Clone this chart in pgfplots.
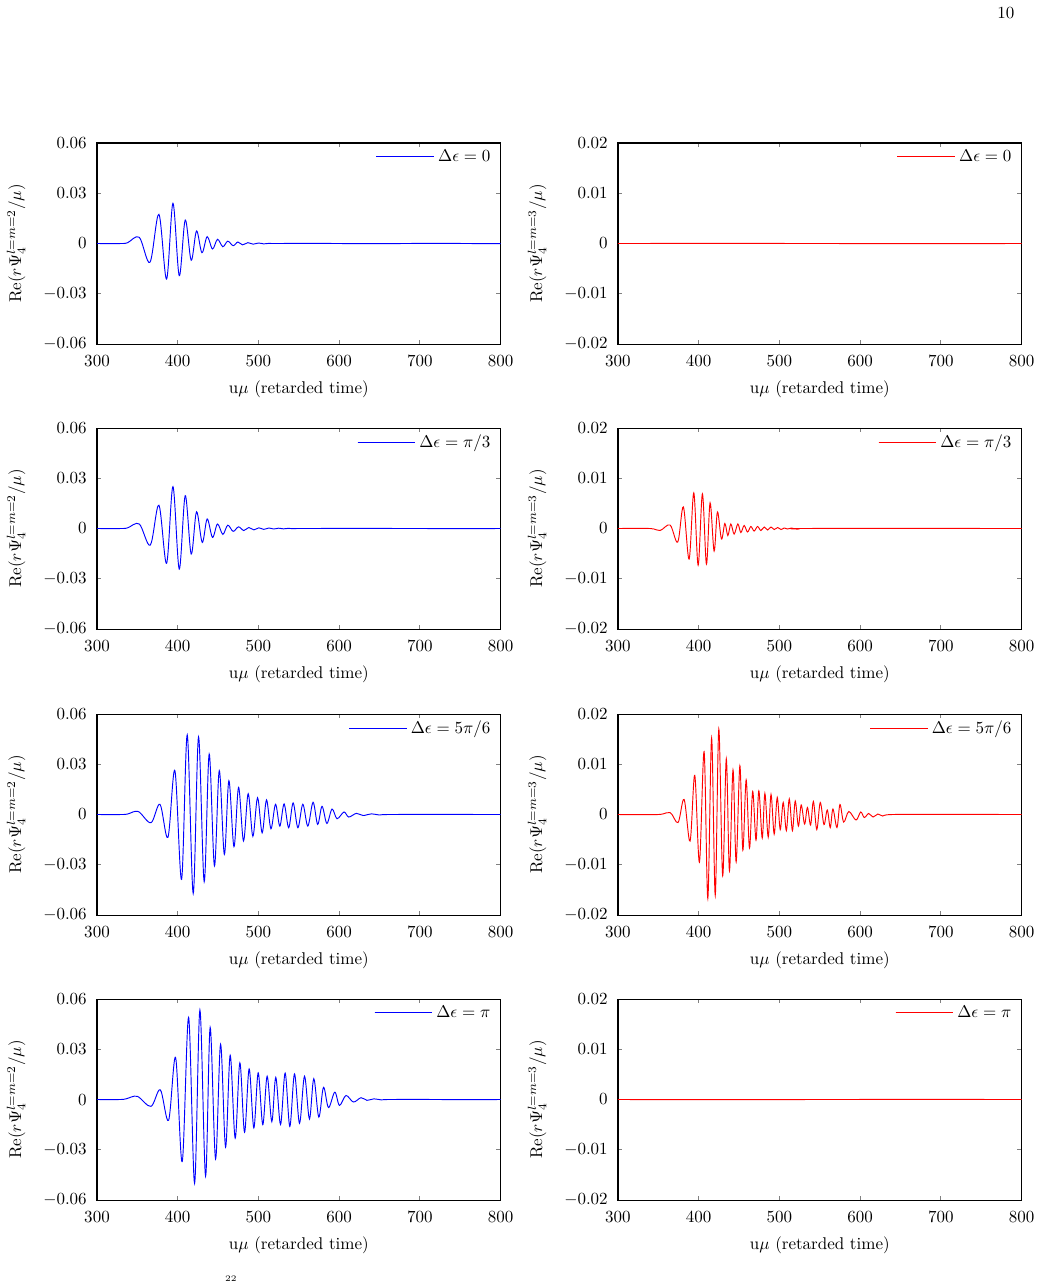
\documentclass[border=0pt]{standalone}
\usepackage{pgfplots}
\pgfplotsset{compat=1.18}

\definecolor{gpblue}{RGB}{0,0,255}
\definecolor{gpred}{RGB}{255,0,0}

% Common look of every panel: gnuplot-like frame with inward ticks on all sides
\pgfplotsset{
  wave/.style={
    scale only axis,
    width=237.3pt, height=118.19pt,
    xmin=300, xmax=800,
    xtick={300,400,500,600,700,800},
    scaled y ticks=false,
    axis line style={line width=0.6pt},
    major tick length=2.6pt,
    major tick style={line width=0.5pt},
    xticklabel style={yshift=-3.5pt},
    yticklabel style={xshift=-2.5pt},
    xlabel={u$\mu$ (retarded time)},
    xlabel style={at={(axis description cs:0.5,-0.224)}, anchor=center},
    ylabel style={at={(axis description cs:-0.2005,0.5)}, anchor=center},
    legend style={draw=none, fill=none, at={(1,1)}, anchor=north east,
      xshift=-0.8pt, yshift=0.2pt},
    legend image code/.code={%
      \path (0pt,0pt) -- (34pt,0pt);
      \draw[#1] (0pt,0pt) -- (28pt,0pt);},
    every axis plot/.append style={line width=0.55pt, smooth, tension=0.55},
  },
  ltwo/.style={wave,
    ymin=-0.06, ymax=0.06,
    ytick={-0.06,-0.03,0,0.03,0.06},
    yticklabels={$-0.06$,$-0.03$,$0$,$0.03$,$0.06$},
    ylabel={Re$(r\Psi_4^{l=m=2}/\mu)$},
  },
  lthree/.style={wave,
    ymin=-0.02, ymax=0.02,
    ytick={-0.02,-0.01,0,0.01,0.02},
    yticklabels={$-0.02$,$-0.01$,$0$,$0.01$,$0.02$},
    ylabel={Re$(r\Psi_4^{l=m=3}/\mu)$},
  },
}

\begin{document}
\begin{tikzpicture}
\path[use as bounding box] (0pt,0pt) rectangle (612.108pt,-754.404pt);
\node at (591.5pt,-7.6pt) {10};
\node[anchor=south, inner sep=0pt, font=\tiny] at (135.8pt,-754.0pt) {22};

% ---------- Delta epsilon = 0 ----------
\begin{axis}[ltwo, at={(57.04pt,-84.084pt)}, anchor=north west]
\addplot[draw=gpblue] coordinates {
(300,0) (330,0) (338,0.0005) (352.4,0.0037) (365.6,-0.0112) (376.7,0.0174)
(386.2,-0.0212) (394.1,0.0240) (401.9,-0.0192) (409.3,0.0140) (416.7,-0.0100)
(423.3,0.0075) (430.0,-0.0055) (436.5,0.0041) (443.1,-0.0033) (449.3,0.0025)
(455.9,-0.0019) (462.0,0.0014) (468.7,-0.0013) (474.5,0.0009) (480.3,-0.0008)
(486.9,0.0005) (493.5,-0.0004) (500,0.0003) (506.5,-0.0002) (513,0.0001)
(520,0) (560,0.0001) (600,0) (640,-0.0001) (680,0) (720,0.0001) (760,0) (800,-0.0001)};
\addlegendentry{$\Delta\epsilon = 0$}
\end{axis}

\begin{axis}[lthree, at={(363.38pt,-84.084pt)}, anchor=north west]
\addplot[draw=gpred] coordinates {(300,0) (425,0.00002) (550,0) (675,-0.00002) (800,0)};
\addlegendentry{$\Delta\epsilon = 0$}
\end{axis}

% ---------- Delta epsilon = pi/3 ----------
\begin{axis}[ltwo, at={(57.04pt,-251.664pt)}, anchor=north west]
\addplot[draw=gpblue] coordinates {
(300,0) (330,0) (338,0.0004) (352.4,0.0027) (366.0,-0.0099) (376.7,0.0139)
(386.2,-0.0208) (394.1,0.0250) (401.9,-0.0242) (409.3,0.0196) (416.7,-0.0152)
(423.3,0.0100) (430.4,-0.0083) (436.5,0.0057) (443.1,-0.0053) (449.3,0.0027)
(455.9,-0.0035) (462.0,0.0020) (468.7,-0.0017) (475.3,0.0010) (481.9,-0.0012)
(488.0,0.0006) (494.3,-0.0008) (500.5,0.0004) (506.6,-0.0005) (513,0.0003)
(519,-0.0003) (525,0.0002) (531,-0.0002) (537,0.0001) (543,-0.0001)
(550,0) (625,0.00005) (700,0) (750,-0.00005) (800,0)};
\addlegendentry{$\Delta\epsilon = \pi/3$}
\end{axis}

\begin{axis}[lthree, at={(363.38pt,-251.664pt)}, anchor=north west]
\addplot[draw=gpred] coordinates {
(300,0) (340,0) (352.1,-0.0004) (364.5,0.0007) (374.0,-0.0027) (381.0,0.0043)
(388.1,-0.0061) (393.9,0.0071) (399.3,-0.0073) (404.6,0.0069) (409.6,-0.0071)
(414.1,0.0051) (419.1,-0.0045) (423.2,0.0033) (428.2,-0.0021) (432.4,0.0010)
(436.1,-0.0014) (439.8,0.0009) (443.9,-0.0011) (448.5,0.0009) (452.2,-0.0008)
(456.3,0.0006) (460.5,-0.0007) (464.6,0.0004) (468.7,-0.0005) (472.9,0.0004)
(477.0,-0.0004) (481.2,0.0003) (485.3,-0.0003) (489.5,0.0003) (493.6,-0.0002)
(497.8,0.0002) (502,-0.0002) (506,0.0001) (510,-0.0001) (515,0.0001)
(520,-0.0001) (525,0) (650,0.00002) (800,0)};
\addlegendentry{$\Delta\epsilon = \pi/3$}
\end{axis}

% ---------- Delta epsilon = 5pi/6 ----------
\begin{axis}[ltwo, at={(57.04pt,-419.832pt)}, anchor=north west]
\addplot[draw=gpblue] coordinates {
(300,0) (330,0) (338,0.0003) (351.1,0.0018) (366.8,-0.0049) (378.0,0.0061)
(387.9,-0.0136) (396.5,0.0262) (404.8,-0.0387) (411.8,0.0475) (419.2,-0.0471)
(425.8,0.0463) (432.8,-0.0401) (439.0,0.0361) (445.5,-0.0307) (451.5,0.0262)
(457.8,-0.0238) (463.4,0.0202) (469.7,-0.0192) (475.4,0.0162) (481.5,-0.0158)
(487.3,0.0124) (493.1,-0.0130) (498.9,0.0100) (504.6,-0.0109) (510.0,0.0087)
(515.5,-0.0085) (521.2,0.0061) (526.5,-0.0069) (531.8,0.0063) (537.5,-0.0079)
(543.0,0.0069) (548.9,-0.0079) (555.0,0.0061) (561.2,-0.0069) (567.7,0.0073)
(573.4,-0.0059) (578.8,0.0049) (584.8,-0.0053) (591.2,0.0033) (597.4,-0.0025)
(606.0,0.0015) (611.9,-0.0015) (621.4,0.0007) (629.6,-0.0006) (640,0.0004)
(650,-0.0003) (660,0) (730,0.00005) (800,0)};
\addlegendentry{$\Delta\epsilon = 5\pi/6$}
\end{axis}

\begin{axis}[lthree, at={(363.38pt,-419.832pt)}, anchor=north west]
\addplot[draw=gpred] coordinates {
(300,0) (350,0) (364.5,0.0004) (374.4,-0.0016) (381.9,0.0030) (389.3,-0.0053)
(395.1,0.0078) (400.9,-0.0095) (406.7,0.0125) (411.3,-0.0167) (416.0,0.0152)
(420.5,-0.0161) (424.9,0.0170) (429.7,-0.0122) (434.2,0.0111) (438.1,-0.0112)
(442.5,0.0089) (446.4,-0.0094) (451.0,0.0097) (454.7,-0.0071) (458.8,0.0069)
(462.9,-0.0067) (466.9,0.0046) (471.0,-0.0051) (474.5,0.0047) (478.7,-0.0047)
(482.0,0.0042) (486.1,-0.0045) (489.6,0.0040) (493.5,-0.0039) (497.3,0.0034)
(501.0,-0.0030) (504.7,0.0024) (508.6,-0.0032) (512.2,0.0031) (516.1,-0.0032)
(519.6,0.0027) (523.5,-0.0023) (527.0,0.0019) (531.2,-0.0019) (534.7,0.0014)
(538.6,-0.0021) (542.1,0.0026) (546.3,-0.0030) (550.6,0.0024) (555.2,-0.0020)
(559.3,0.0009) (563.0,-0.0026) (566.3,0.0011) (571.3,-0.0026) (575.0,0.0020)
(579.6,-0.0015) (586,0.0006) (594.9,-0.0011) (600.7,0.0005) (605.2,-0.0006)
(610.6,0.0002) (616,-0.0005) (622,0.0001) (628,-0.0003) (640,0) (720,0.00002) (800,0)};
\addlegendentry{$\Delta\epsilon = 5\pi/6$}
\end{axis}

% ---------- Delta epsilon = pi ----------
\begin{axis}[ltwo, at={(57.04pt,-587.412pt)}, anchor=north west]
\addplot[draw=gpblue] coordinates {
(300,0) (328,0) (336,0.0004) (349.9,0.0019) (366.8,-0.0041) (378.4,0.0058)
(388.7,-0.0124) (397.4,0.0250) (405.6,-0.0371) (413.5,0.0490) (420.9,-0.0500)
(427.5,0.0534) (434.5,-0.0457) (440.2,0.0430) (446.9,-0.0355) (453.1,0.0330)
(459.3,-0.0284) (465.0,0.0264) (471.2,-0.0231) (477.0,0.0219) (482.8,-0.0195)
(488.5,0.0183) (494.3,-0.0170) (499.7,0.0159) (505.4,-0.0150) (510.8,0.0139)
(516.6,-0.0132) (521.5,0.0132) (527.4,-0.0149) (533.1,0.0158) (538.9,-0.0161)
(544.7,0.0153) (550.9,-0.0142) (557.1,0.0139) (563.2,-0.0116) (568.6,0.0124)
(574.8,-0.0105) (580.6,0.0073) (586.8,-0.0048) (594.6,0.0044) (600.4,-0.0035)
(608.5,0.0024) (617.7,-0.0015) (627.1,0.0011) (634.5,-0.0005) (643,0.0004)
(652,-0.0002) (660,0) (700,0.00005) (750,-0.00005) (800,0)};
\addlegendentry{$\Delta\epsilon = \pi$}
\end{axis}

\begin{axis}[lthree, at={(363.38pt,-587.412pt)}, anchor=north west]
\addplot[draw=gpred] coordinates {(300,0) (425,-0.00002) (550,0) (675,0.00002) (800,0)};
\addlegendentry{$\Delta\epsilon = \pi$}
\end{axis}
\end{tikzpicture}
\end{document}
